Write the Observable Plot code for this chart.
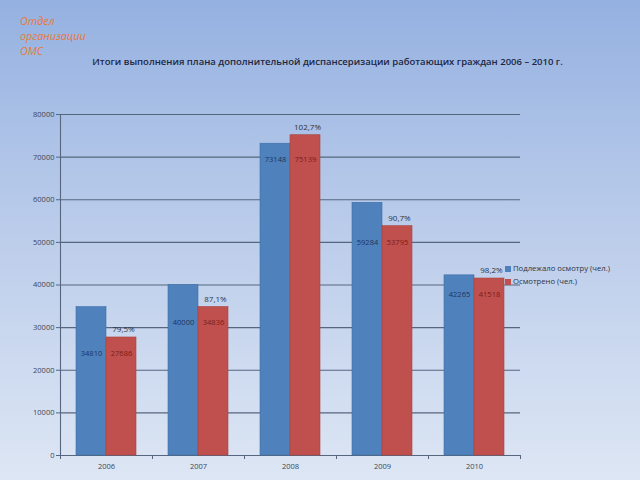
<!DOCTYPE html>
<html>
<head>
<meta charset="utf-8">
<script src="https://cdn.jsdelivr.net/npm/d3@7"></script>
<script src="https://cdn.jsdelivr.net/npm/@observablehq/plot@0.6"></script>
<style>
  html, body { margin: 0; padding: 0; }
  body {
    width: 640px; height: 480px; position: relative; overflow: hidden;
    background: linear-gradient(to bottom, #95b1e1 0%, #b9cbea 45%, #dde6f4 100%);
    font-family: "Open Sans", "DejaVu Sans", sans-serif;
  }
  #dept {
    position: absolute; left: 20px; top: 13px; color: #e47a3a;
    font-style: italic; font-size: 10.8px; line-height: 15px; font-family: "Open Sans", sans-serif;
  }
  #title {
    position: absolute; left: 0; width: 655px; top: 55px; text-align: center;
    font-size: 9.5px; font-weight: 600; color: #1d2740; font-family: "Open Sans", sans-serif;
  }
  #chart { position: absolute; left: 0; top: 0; }
  #legend {
    position: absolute; left: 505px; top: 262px; font-size: 7.7px; color: #2c3444;
    line-height: 13px; font-family: "Open Sans", sans-serif;
  }
  #legend span.sw { display: inline-block; width: 6px; height: 6px; margin-right: 2px; vertical-align: -0.5px; }
</style>
</head>
<body>
<div id="dept">Отдел<br>организации<br>ОМС</div>
<div id="title">Итоги выполнения плана дополнительной диспансеризации работающих граждан 2006 – 2010 г.</div>
<div id="chart"></div>
<div id="legend"></div>
<script>
const years = ["2006", "2007", "2008", "2009", "2010"];
const seriesNames = ["Подлежало осмотру (чел.)", "Осмотрено (чел.)"];
const planned = [34810, 40000, 73148, 59284, 42265];
const examined = [27686, 34836, 75139, 53795, 41518];
const percentLabels = ["79,5%", "87,1%", "102,7%", "90,7%", "98,2%"];
const yTicks = [0, 10000, 20000, 30000, 40000, 50000, 60000, 70000, 80000];
const colors = ["#4f81bd", "#c0504d"];
const labelColors = ["#1c3560", "#7a1d17"];

const rows = [];
years.forEach((yr, i) => {
  const low = Math.min(planned[i], examined[i]);
  rows.push({year: yr, series: seriesNames[0], value: planned[i], labelY: low});
  rows.push({year: yr, series: seriesNames[1], value: examined[i], labelY: low});
});
const pctRows = years.map((yr, i) => ({year: yr, series: seriesNames[1], value: examined[i], text: percentLabels[i]}));

const gridColor = "#56667f";
const chart = Plot.plot({
  width: 640,
  height: 480,
  marginLeft: 60,
  marginRight: 120,
  marginTop: 114,
  marginBottom: 25,
  style: {background: "transparent", fontFamily: "Open Sans, sans-serif", fontSize: "7.5px", color: "#333d4d"},
  fx: {domain: years, padding: 0, label: null},
  x: {domain: seriesNames, paddingInner: 0, paddingOuter: 0.5, axis: null},
  y: {domain: [0, 80000], label: null},
  color: {domain: seriesNames, range: colors},
  marks: [
    Plot.ruleY(yTicks, {stroke: gridColor, strokeWidth: 1.1}),
    Plot.axisY({ticks: yTicks, tickSize: 4, tickPadding: 2, stroke: gridColor, fill: "#3c4658", fontSize: 7.5, label: null, tickFormat: d => String(d)}),
    Plot.axisFx({anchor: "bottom", tickSize: 0, tickPadding: 8, fill: "#3c4658", fontSize: 7.5, label: null}),
    Plot.ruleX(["2006"], {fx: d => d, x: null, y1: 0, y2: 80000, dx: -46, stroke: gridColor, strokeWidth: 1.1}),
    Plot.ruleX(years, {fx: d => d, x: null, y1: 0, y2: 0, insetBottom: -4, dx: -46, stroke: gridColor}),
    Plot.ruleX(["2010"], {fx: d => d, x: null, y1: 0, y2: 0, insetBottom: -4, dx: 46, stroke: gridColor}),
    Plot.barY(rows, {fx: "year", x: "series", y: "value", fill: "series", stroke: d => d.series === seriesNames[0] ? "#3f6ea6" : "#a8433f", strokeWidth: 0.6}),
    Plot.text(rows, {fx: "year", x: "series", y: "labelY", dy: 16, text: d => String(d.value), fill: d => d.series === seriesNames[0] ? labelColors[0] : labelColors[1], fontSize: 7.5}),
    Plot.text(pctRows, {fx: "year", x: "series", y: "value", dy: -8, dx: 2, text: "text", fill: "#2c3444", fontSize: 8})
  ]
});
document.getElementById("chart").appendChild(chart);

const legend = document.getElementById("legend");
seriesNames.forEach((name, i) => {
  const div = document.createElement("div");
  const sw = document.createElement("span");
  sw.className = "sw";
  sw.style.background = colors[i];
  div.appendChild(sw);
  div.appendChild(document.createTextNode(name));
  legend.appendChild(div);
});
</script>
</body>
</html>
